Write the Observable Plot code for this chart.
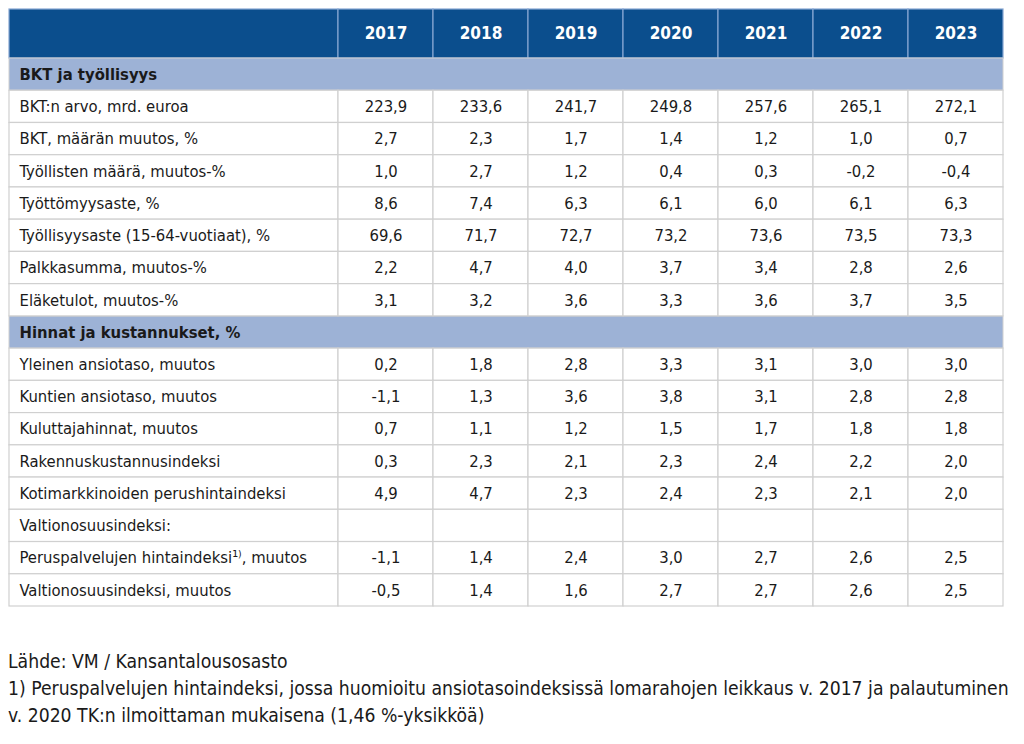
<!DOCTYPE html>
<html>
<head>
<meta charset="utf-8">
<script src="https://cdn.jsdelivr.net/npm/d3@7"></script>
<script src="https://cdn.jsdelivr.net/npm/@observablehq/plot@0.6"></script>
<style>
  body { margin: 0; background: #fff; }
  #chart svg { display: block; }
  #foot { font-family: "DejaVu Sans Condensed", sans-serif; font-size: 19.2px; line-height: 27px; color: #1a1a1a; padding: 8px 0 0 8px; }
</style>
</head>
<body>
<div id="chart"></div>
<div id="foot">
  <div>Lähde: VM / Kansantalousosasto</div>
  <div>1) Peruspalvelujen hintaindeksi, jossa huomioitu ansiotasoindeksissä lomarahojen leikkaus v. 2017 ja palautuminen</div>
  <div>v. 2020 TK:n ilmoittaman mukaisena (1,46 %-yksikköä)</div>
</div>
<script>
// ---- data ----
const years = ["2017", "2018", "2019", "2020", "2021", "2022", "2023"];

const section1Title = "BKT ja työllisyys";
const section1Labels = [
  "BKT:n arvo, mrd. euroa",
  "BKT, määrän muutos, %",
  "Työllisten määrä, muutos-%",
  "Työttömyysaste, %",
  "Työllisyysaste (15-64-vuotiaat), %",
  "Palkkasumma, muutos-%",
  "Eläketulot, muutos-%"
];
const section1Values = [
  [223.9, 233.6, 241.7, 249.8, 257.6, 265.1, 272.1],
  [2.7, 2.3, 1.7, 1.4, 1.2, 1.0, 0.7],
  [1.0, 2.7, 1.2, 0.4, 0.3, -0.2, -0.4],
  [8.6, 7.4, 6.3, 6.1, 6.0, 6.1, 6.3],
  [69.6, 71.7, 72.7, 73.2, 73.6, 73.5, 73.3],
  [2.2, 4.7, 4.0, 3.7, 3.4, 2.8, 2.6],
  [3.1, 3.2, 3.6, 3.3, 3.6, 3.7, 3.5]
];

const section2Title = "Hinnat ja kustannukset, %";
const section2Labels = [
  "Yleinen ansiotaso, muutos",
  "Kuntien ansiotaso, muutos",
  "Kuluttajahinnat, muutos",
  "Rakennuskustannusindeksi",
  "Kotimarkkinoiden perushintaindeksi",
  "Valtionosuusindeksi:",
  "Peruspalvelujen hintaindeksi¹⁾, muutos",
  "Valtionosuusindeksi, muutos"
];
const section2Values = [
  [0.2, 1.8, 2.8, 3.3, 3.1, 3.0, 3.0],
  [-1.1, 1.3, 3.6, 3.8, 3.1, 2.8, 2.8],
  [0.7, 1.1, 1.2, 1.5, 1.7, 1.8, 1.8],
  [0.3, 2.3, 2.1, 2.3, 2.4, 2.2, 2.0],
  [4.9, 4.7, 2.3, 2.4, 2.3, 2.1, 2.0],
  [null, null, null, null, null, null, null],
  [-1.1, 1.4, 2.4, 3.0, 2.7, 2.6, 2.5],
  [-0.5, 1.4, 1.6, 2.7, 2.7, 2.6, 2.5]
];

// ---- layout (in table units) ----
const labelColWidth = 3.463;
const headerHeight = 1.52;
const totalWidth = labelColWidth + years.length;

const fmt = v => v == null ? "" : v.toFixed(1).replace(".", ",");

// build rows
const rows = [];
let yPos = headerHeight;
function addSection(title, labels, values) {
  rows.push({kind: "section", label: title, y1: yPos, y2: yPos + 1});
  yPos += 1;
  labels.forEach((lab, i) => {
    rows.push({kind: "data", label: lab, values: values[i], y1: yPos, y2: yPos + 1});
    yPos += 1;
  });
}
addSection(section1Title, section1Labels, section1Values);
addSection(section2Title, section2Labels, section2Values);
const totalHeight = yPos;

const colX1 = j => labelColWidth + j;

const headerCells = [{x1: 0, x2: labelColWidth}].concat(
  years.map((y, j) => ({x1: colX1(j), x2: colX1(j) + 1, year: y}))
);

const sectionRows = rows.filter(r => r.kind === "section");
const dataRows = rows.filter(r => r.kind === "data");

const dataCells = [];
const valueTexts = [];
dataRows.forEach(r => {
  dataCells.push({x1: 0, x2: labelColWidth, y1: r.y1, y2: r.y2});
  years.forEach((yr, j) => {
    dataCells.push({x1: colX1(j), x2: colX1(j) + 1, y1: r.y1, y2: r.y2});
    valueTexts.push({x: colX1(j) + 0.5, y: (r.y1 + r.y2) / 2, text: fmt(r.values[j])});
  });
});

const font = "'DejaVu Sans Condensed', sans-serif";
const ink = "#1a1a1a";
const fs = 16.5;

const chart = Plot.plot({
  width: 1024,
  height: 640,
  margin: 0,
  x: {type: "linear", domain: [0, totalWidth], range: [9, 1003], axis: null},
  y: {type: "linear", domain: [0, totalHeight], range: [9, 606], axis: null},
  marks: [
    // header background
    Plot.rect(headerCells, {x1: "x1", x2: "x2", y1: 0, y2: headerHeight, fill: "#0b4e8d", stroke: "#86a6d2", strokeWidth: 1.2}),
    // section rows
    Plot.rect(sectionRows, {x1: 0, x2: totalWidth, y1: "y1", y2: "y2", fill: "#9db2d6", stroke: "#d0d0d0", strokeWidth: 1}),
    // data cells
    Plot.rect(dataCells, {x1: "x1", x2: "x2", y1: "y1", y2: "y2", fill: "white", stroke: "#d0d0d0", strokeWidth: 1.2}),
    // header year labels
    Plot.text(headerCells.filter(d => d.year), {
      x: d => (d.x1 + d.x2) / 2, y: headerHeight / 2, text: "year",
      fill: "white", fontWeight: "bold", fontSize: 17, fontFamily: font
    }),
    // section titles
    Plot.text(sectionRows, {
      x: 0, y: d => (d.y1 + d.y2) / 2, text: "label", textAnchor: "start", dx: 10,
      fill: ink, fontWeight: "bold", fontSize: fs, fontFamily: font
    }),
    // row labels
    Plot.text(dataRows, {
      x: 0, y: d => (d.y1 + d.y2) / 2, text: "label", textAnchor: "start", dx: 10,
      fill: ink, fontSize: fs, fontFamily: font
    }),
    // values
    Plot.text(valueTexts, {
      x: "x", y: "y", text: "text",
      fill: ink, fontSize: fs, fontFamily: font
    })
  ]
});
document.getElementById("chart").appendChild(chart);
</script>
</body>
</html>
